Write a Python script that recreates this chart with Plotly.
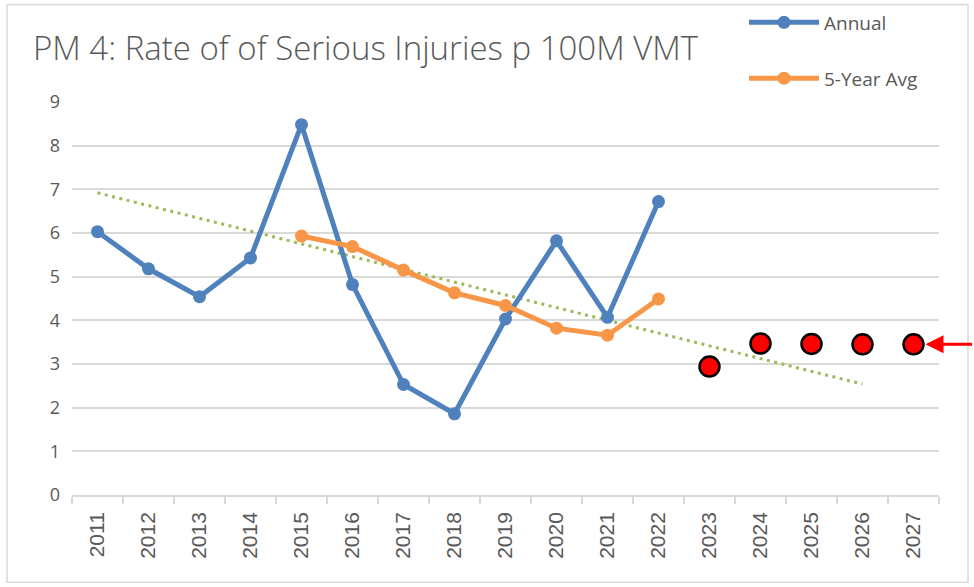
import plotly.graph_objects as go

years = [str(y) for y in range(2011, 2028)]

annual_years = [str(y) for y in range(2011, 2023)]
annual_values = [6.03, 5.18, 4.54, 5.43, 8.48, 4.82, 2.53, 1.86, 4.03, 5.82, 4.07, 6.72]

avg_years = [str(y) for y in range(2015, 2023)]
avg_values = [5.93, 5.69, 5.15, 4.63, 4.34, 3.82, 3.66, 4.49]

target_years = [str(y) for y in range(2023, 2028)]
target_values = [2.94, 3.47, 3.46, 3.45, 3.45]

trend_years = ["2011", "2026"]
trend_values = [6.92, 2.54]

y_ticks = [0, 1, 2, 3, 4, 5, 6, 7, 8, 9]

title_text = "PM 4: Rate of of Serious Injuries p 100M VMT"

BLUE = "#4F81BD"
ORANGE = "#F79646"
GREEN = "#9BBB59"
GRAY_TXT = "#595959"
GRID = "#D9D9D9"

W, H = 974, 587
PLOT_L, PLOT_R, PLOT_T, PLOT_B = 72, 939, 101.7, 495.5  # reference pixels
ML = PLOT_L
MT = PLOT_T
MR = W - PLOT_R
MB = H - PLOT_B
PW = PLOT_R - PLOT_L
PH = PLOT_B - PLOT_T
Y_RANGE = [0, 9]


def px_x(p):
    return (p - PLOT_L) / PW


def px_y(p):
    return (PLOT_B - p) / PH


fig = go.Figure()

fig.add_trace(go.Scatter(
    x=trend_years, y=trend_values, mode="lines", showlegend=False,
    line=dict(color=GREEN, width=3, dash="3px,4.5px"), hoverinfo="skip",
))
fig.add_trace(go.Scatter(
    x=annual_years, y=annual_values, mode="lines+markers", name="Annual",
    line=dict(color=BLUE, width=5), marker=dict(size=13, color=BLUE),
    legend="legend",
))
fig.add_trace(go.Scatter(
    x=avg_years, y=avg_values, mode="lines+markers", name="5-Year Avg",
    line=dict(color=ORANGE, width=5), marker=dict(size=13, color=ORANGE),
    legend="legend2",
))
fig.add_trace(go.Scatter(
    x=target_years, y=target_values, mode="markers", showlegend=False,
    marker=dict(size=20, color="#FF0000", line=dict(color="#000000", width=2.5)),
    cliponaxis=False,
))

# arrow pointing at the last target marker (paper position derived from the category index)
last_idx = years.index(target_years[-1])
fig.add_annotation(
    x=(last_idx + 0.5) / len(years),
    y=(target_values[-1] - Y_RANGE[0]) / (Y_RANGE[1] - Y_RANGE[0]),
    xref="paper", yref="paper",
    text="", showarrow=True, ax=60, ay=0,
    arrowhead=2, arrowsize=1.2, arrowwidth=3, arrowcolor="#FF0000", standoff=12,
)

fig.add_shape(
    type="rect", xref="paper", yref="paper",
    x0=px_x(7), x1=px_x(968), y0=px_y(583), y1=px_y(4),
    line=dict(color=GRID, width=1.5), fillcolor="rgba(0,0,0,0)", layer="below",
)

legend_common = dict(
    orientation="v", xanchor="left", yanchor="middle",
    bgcolor="rgba(0,0,0,0)", borderwidth=0,
    font=dict(family="Open Sans", size=19, color=GRAY_TXT),
    itemwidth=70, itemclick=False, itemdoubleclick=False,
)

fig.update_layout(
    width=W, height=H,
    margin=dict(l=ML, r=MR, t=MT, b=MB, autoexpand=False),
    paper_bgcolor="white", plot_bgcolor="white",
    hovermode=False,
    title=dict(
        text=title_text, xref="container", yref="container",
        x=33 / W, xanchor="left", y=1 - 48 / H, yanchor="middle",
        font=dict(family="Open Sans", size=33, color=GRAY_TXT, weight=300),
    ),
    legend=dict(x=px_x(744), y=px_y(22), **legend_common),
    legend2=dict(x=px_x(744), y=px_y(78), **legend_common),
    xaxis=dict(
        type="category", categoryorder="array", categoryarray=years,
        range=[-0.5, len(years) - 0.5],
        showgrid=False, showline=True, linecolor=GRID, linewidth=1.5,
        ticks="outside", tickson="boundaries", ticklen=7, tickcolor=GRID, tickwidth=1.5,
        ticklabelstandoff=7,
        tickangle=-90, tickfont=dict(family="Liberation Sans", size=21, color=GRAY_TXT),
        zeroline=False, fixedrange=True,
    ),
    yaxis=dict(
        range=Y_RANGE, tickvals=y_ticks, ticktext=[str(v) for v in y_ticks],
        showgrid=True, gridcolor=GRID, gridwidth=1.5,
        showline=False, zeroline=False, ticks="", ticklabelstandoff=11,
        tickfont=dict(family="Open Sans", size=18, color=GRAY_TXT),
        fixedrange=True,
    ),
    showlegend=True,
)

fig.write_html(
    "out.html",
    config={"displayModeBar": False},
    post_script="document.body.style.margin='0';document.body.style.overflow='hidden';",
)
